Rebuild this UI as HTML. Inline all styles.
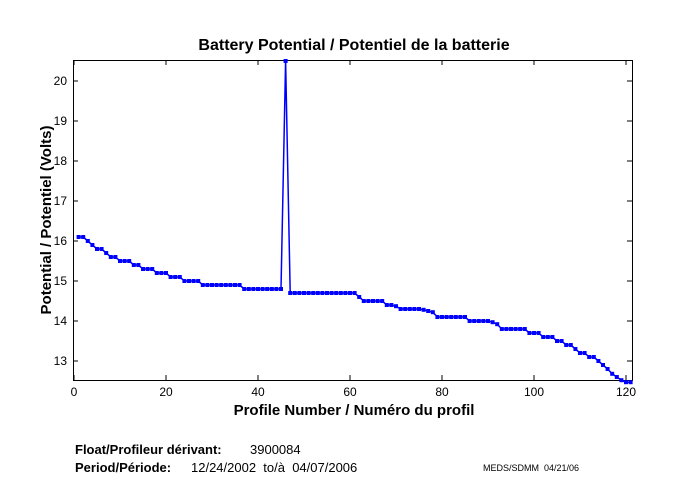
<!DOCTYPE html><html><head><style>body{margin:0;background:#fff}svg{display:block}text{font-family:"Liberation Sans",Arial,sans-serif;white-space:pre}</style></head><body>
<svg id="s" width="680" height="500" xmlns="http://www.w3.org/2000/svg">
<rect x="73.5" y="60.5" width="559" height="320" fill="#fff" stroke="#000" stroke-width="1"/>
<text x="354" y="50" font-size="16" font-weight="bold" text-anchor="middle">Battery Potential / Potentiel de la batterie</text>
<text x="354" y="415" font-size="15" font-weight="bold" text-anchor="middle">Profile Number / Numéro du profil</text>
<text transform="translate(51,220) rotate(-90)" font-size="15" font-weight="bold" text-anchor="middle">Potential / Potentiel (Volts)</text>
<g font-size="12" text-anchor="middle" id="xt"></g>
<g font-size="12" text-anchor="end" id="yt"></g>
<g id="d"></g>
<text x="75" y="454" font-size="13" font-weight="bold">Float/Profileur dérivant:</text>
<text x="250" y="454" font-size="13">3900084</text>
<text x="75" y="472" font-size="13" font-weight="bold">Period/Période:</text>
<text x="191" y="472" font-size="13">12/24/2002  to/à  04/07/2006</text>
<text x="483" y="471" font-size="9">MEDS/SDMM  04/21/06</text>
</svg>
<script>
var NS="http://www.w3.org/2000/svg";
function X(i){return 74+4.6*i}function Y(v){return 361-40*(v-13)}
function el(t,a,p,tx){var e=document.createElementNS(NS,t);for(var k in a)e.setAttribute(k,a[k]);if(tx!==undefined)e.textContent=String(tx);document.getElementById(p).appendChild(e);}
for(var i=0;i<=120;i+=20){var x=X(i);el('line',{x1:x,y1:380,x2:x,y2:375,stroke:'#000'},'xt');el('line',{x1:x,y1:60,x2:x,y2:65,stroke:'#000'},'xt');el('text',{x:x,y:396},'xt',i);}
for(var v=13;v<=20;v++){var y=Y(v);el('line',{x1:73,y1:y,x2:78,y2:y,stroke:'#000'},'yt');el('line',{x1:632,y1:y,x2:627,y2:y,stroke:'#000'},'yt');el('text',{x:67,y:y+4},'yt',v);}
var segs=[[1,2,16.1],[3,3,16.0],[4,4,15.9],[5,6,15.8],[7,7,15.7],[8,9,15.6],[10,12,15.5],[13,14,15.4],[15,17,15.3],[18,20,15.2],[21,23,15.1],[24,27,15.0],[28,36,14.9],[37,45,14.8],[46,46,20.5],[47,61,14.7],[62,62,14.6],[63,67,14.5],[68,69,14.4],[70,70,14.37],[71,75,14.3],[76,76,14.28],[77,77,14.25],[78,78,14.22],[79,82,14.1],[83,83,14.1],[84,85,14.1],[86,90,14.0],[91,91,13.97],[92,92,13.92],[93,98,13.8],[99,101,13.7],[102,104,13.6],[105,106,13.5],[107,108,13.4],[109,109,13.3],[110,111,13.2],[112,113,13.1],[114,114,13.0],[115,115,12.9],[116,116,12.8],[117,117,12.68],[118,118,12.6],[119,119,12.52],[120,121,12.47]];
var pts=[];segs.forEach(function(s){for(var i=s[0];i<=s[1];i++)pts.push([X(i),Y(s[2])]);});
el('polyline',{points:pts.map(function(p){return p[0]+','+p[1]}).join(' '),fill:'none',stroke:'#0000ff','stroke-width':1.5},'d');
pts.forEach(function(p){el('rect',{x:p[0]-2,y:p[1]-2,width:4,height:4,fill:'#0000ff'},'d');});
</script></body></html>
